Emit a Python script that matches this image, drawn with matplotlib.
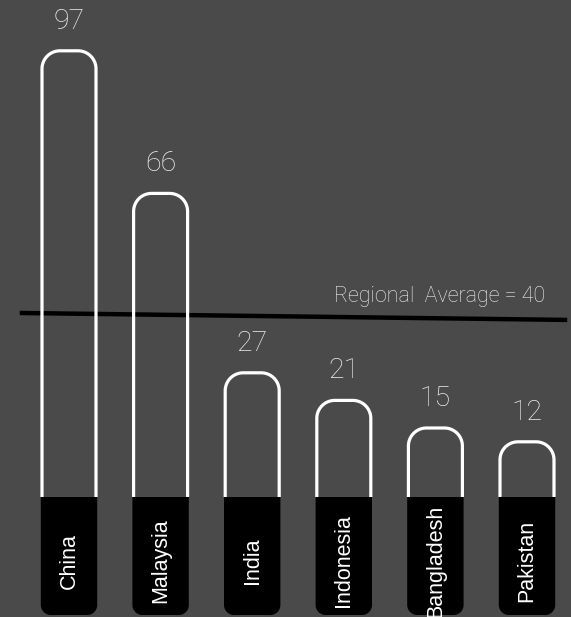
import numpy as np
import matplotlib
matplotlib.use('Agg')
import matplotlib.pyplot as plt

countries = ['China', 'Malaysia', 'India', 'Indonesia', 'Bangladesh', 'Pakistan']
values = [97, 66, 27, 21, 15, 12]
regional_avg = 40
avg_label = 'Regional  Average = 40'

BG = '#4a4a4a'
W, H, DPI = 571, 617, 100

# pixel scale of the axes (axes fill the whole figure)
PX_X = 91.6          # pixels per category step
PX_Y = 4.6           # pixels per value unit
X_LO = -69 / PX_X
X_HI = (W - 69) / PX_X
Y_LO = -120 / PX_Y
Y_HI = 497 / PX_Y

LIGHT = dict(family=['Roboto', 'DejaVu Sans'], weight='light')
REGULAR = dict(family=['Liberation Sans', 'DejaVu Sans'], weight='normal')


def arc(cx, cy, rx, ry, a0, a1, n=20):
    t = np.linspace(np.radians(a0), np.radians(a1), n)
    return cx + rx * np.cos(t), cy + ry * np.sin(t)


def main():
    fig = plt.figure(figsize=(W / DPI, H / DPI), dpi=DPI, facecolor=BG)
    ax = fig.add_axes([0, 0, 1, 1])
    ax.set_facecolor(BG)
    ax.set_xlim(X_LO, X_HI)
    ax.set_ylim(Y_LO, Y_HI)
    ax.axis('off')

    w = 54 / PX_X
    r_top = 18
    r_bot = 10
    for i, (name, v) in enumerate(zip(countries, values)):
        x0, x1 = i - w / 2, i + w / 2
        rx, ry = r_top / PX_X, r_top / PX_Y
        ax1, ay1 = arc(x0 + rx, v - ry, rx, ry, 180, 90)
        ax2, ay2 = arc(x1 - rx, v - ry, rx, ry, 90, 0)
        xs = np.concatenate([[x0], ax1, ax2, [x1]])
        ys = np.concatenate([[0], ay1, ay2, [0]])
        ax.plot(xs, ys, color='white', lw=2.3, solid_joinstyle='round',
                solid_capstyle='butt', zorder=3)

        # black base with rounded bottom corners
        bottom = Y_LO + 2 / PX_Y
        bx, by = r_bot / PX_X, r_bot / PX_Y
        b1x, b1y = arc(x0 + bx, bottom + by, bx, by, 180, 270)
        b2x, b2y = arc(x1 - bx, bottom + by, bx, by, 270, 360)
        pad = 1.2 / PX_X
        fx = np.concatenate([[x0 - pad], b1x - np.where(b1x < i, pad, 0),
                             b2x + pad, [x1 + pad]])
        fy = np.concatenate([[0], b1y, b2y, [0]])
        ax.fill(fx, fy, color='black', lw=0, zorder=4)

        ax.text(i, -13.9, name, rotation=90, ha='center', va='center',
                color='white', fontsize=15.5, zorder=5, **REGULAR)
        ax.text(i, v + 6.4, str(v), ha='center', va='center',
                color='#eeeeee', fontsize=20.5, zorder=5, **LIGHT)

    # regional average line (slightly tilted as in the original)
    ax.plot([(22 - 69) / PX_X, (565 - 69) / PX_X],
            [regional_avg, regional_avg - 1.5], color='black', lw=3.2, zorder=2)
    ax.text((545 - 69) / PX_X, regional_avg + 2.3, avg_label, ha='right',
            va='baseline', color='#eeeeee', fontsize=15.5, **LIGHT)

    fig.savefig('out.png', dpi=DPI, facecolor=BG)


if __name__ == '__main__':
    main()
